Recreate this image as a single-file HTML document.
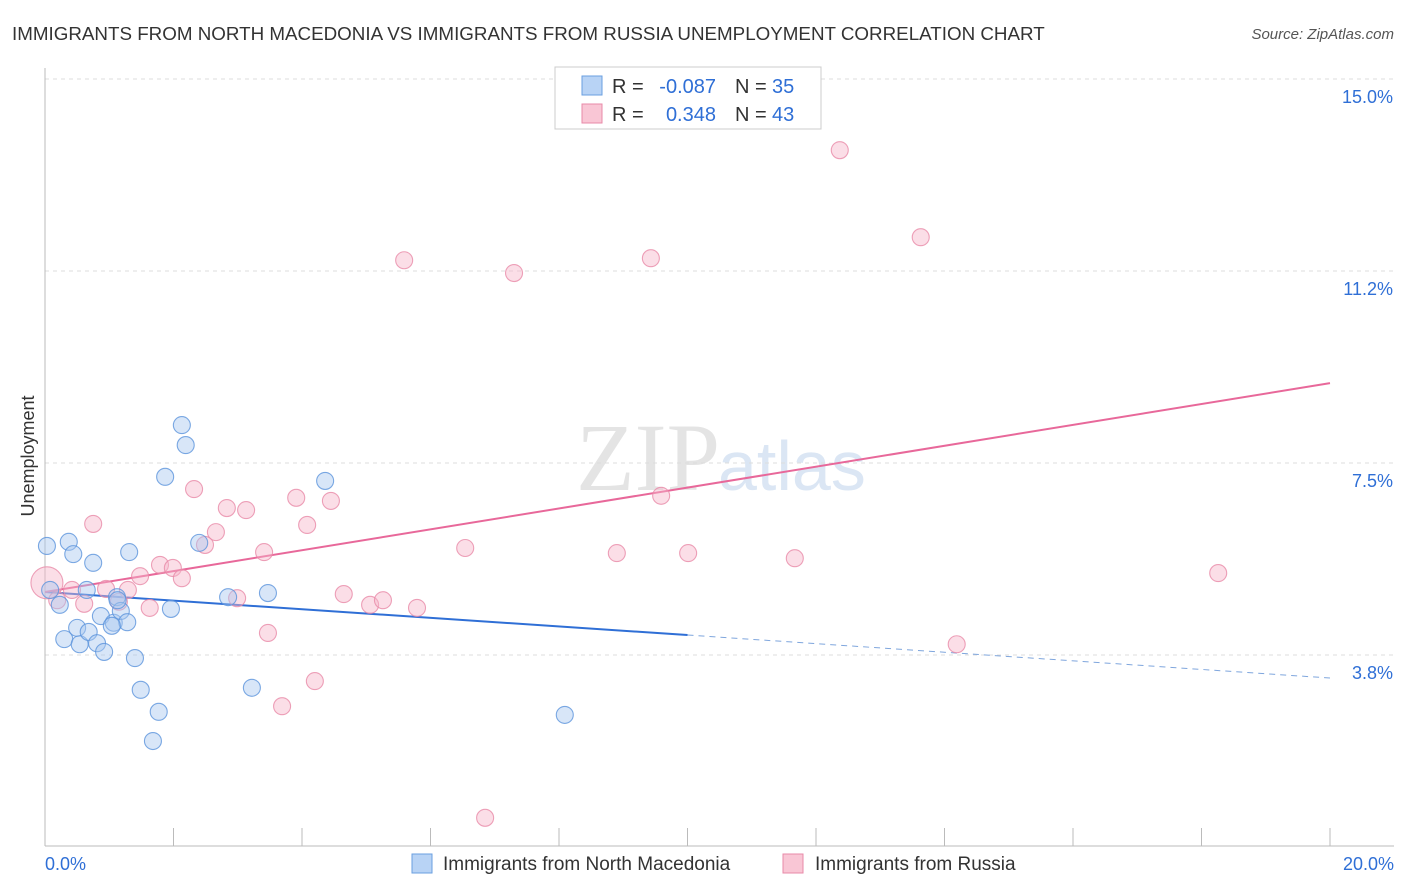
<!DOCTYPE html>
<html><head><meta charset="utf-8">
<style>
body{margin:0;background:#fff;font-family:"Liberation Sans",sans-serif;}
#wrap{position:relative;width:1406px;height:892px;overflow:hidden;}
</style></head>
<body>
<div id="wrap">
<svg id="svg" width="1406" height="892" xmlns="http://www.w3.org/2000/svg">
<text x="12" y="40" font-size="18.8" fill="#333">IMMIGRANTS FROM NORTH MACEDONIA VS IMMIGRANTS FROM RUSSIA UNEMPLOYMENT CORRELATION CHART</text>
<text x="1394" y="39" font-size="15" fill="#555" text-anchor="end" font-style="italic">Source: ZipAtlas.com</text>
<text x="720" y="490" font-size="96" fill="#e4e4e4" text-anchor="end" font-family="Liberation Serif,serif">ZIP</text>
<text x="718" y="490" font-size="70" fill="#dbe6f4">atlas</text>
<text transform="translate(34,456) rotate(-90)" font-size="18" fill="#333" text-anchor="middle">Unemployment</text>
<g id="grid"></g><g id="axes"></g><g id="lines"></g><g id="pts"></g>
<g>
<rect x="555" y="67" width="266" height="62" fill="#fff" stroke="#ccc"/>
<rect x="582" y="76" width="20" height="19" fill="#b8d3f5" stroke="#6a9fe0"/>
<rect x="582" y="104" width="20" height="19" fill="#f9c6d5" stroke="#e88aa8"/>
<text x="612" y="93" font-size="20" fill="#333">R =</text>
<text x="716" y="93" font-size="20" fill="#2f6fd6" text-anchor="end">-0.087</text>
<text x="735" y="93" font-size="20" fill="#333">N =</text>
<text x="772" y="93" font-size="20" fill="#2f6fd6">35</text>
<text x="612" y="121" font-size="20" fill="#333">R =</text>
<text x="716" y="121" font-size="20" fill="#2f6fd6" text-anchor="end">0.348</text>
<text x="735" y="121" font-size="20" fill="#333">N =</text>
<text x="772" y="121" font-size="20" fill="#2f6fd6">43</text>
</g>
<g>
<rect x="412" y="854" width="20" height="19" fill="#b8d3f5" stroke="#6a9fe0"/>
<text x="443" y="870" font-size="19" fill="#333">Immigrants from North Macedonia</text>
<rect x="783" y="854" width="20" height="19" fill="#f9c6d5" stroke="#e88aa8"/>
<text x="815" y="870" font-size="19" fill="#333">Immigrants from Russia</text>
</g>
</svg>
</div>
<script>
const yTicks=[3.75,7.5,11.25,15];
const yTickLabels=["3.8%","7.5%","11.2%","15.0%"];
const xTickLabels=["0.0%","20.0%"];
const blueX=[.03,.37,.44,.75,1.31,.08,.65,.23,1.12,.30,.50,.54,.68,.81,.92,.87,1.07,1.18,1.28,1.04,1.40,1.49,1.77,1.68,2.13,2.19,1.87,2.40,1.96,2.85,3.47,3.22,4.36,8.09,1.13];
const blueY=[5.88,5.96,5.72,5.55,5.76,5.02,5.02,4.73,4.88,4.06,4.28,3.96,4.20,3.98,3.81,4.51,4.38,4.61,4.39,4.32,3.69,3.07,2.64,2.07,8.24,7.85,7.23,5.94,4.65,4.88,4.96,3.11,7.15,2.58,4.82];
const pinkX=[.03,.19,.42,.61,.75,.95,1.29,1.48,1.63,1.79,1.99,2.13,2.32,2.49,2.66,2.83,2.99,3.13,3.41,3.47,3.69,3.91,4.08,4.20,4.45,4.65,5.06,5.26,5.59,5.79,6.54,6.85,7.30,8.90,9.43,9.59,10.01,11.67,12.37,13.63,14.19,18.26,1.15];
const pinkY=[5.16,4.82,5.02,4.75,6.31,5.04,5.02,5.29,4.67,5.51,5.45,5.25,6.99,5.90,6.15,6.62,4.86,6.58,5.76,4.18,2.75,6.82,6.29,3.24,6.76,4.94,4.73,4.82,11.46,4.67,5.84,0.57,11.21,5.74,11.50,6.86,5.74,5.64,13.61,11.91,3.96,5.35,4.79];
const blueFit=[4.98,3.30];
const pinkFit=[4.98,9.06];
const NS="http://www.w3.org/2000/svg";
const X=v=>45+v*64.25, Y=v=>847-v*51.2;
function mk(t,a,p){const e=document.createElementNS(NS,t);for(const k in a)e.setAttribute(k,a[k]);p.appendChild(e);return e;}
const grid=document.getElementById('grid'),axes=document.getElementById('axes'),lines=document.getElementById('lines'),pts=document.getElementById('pts');
yTicks.forEach((t,i)=>{
 const l=mk('line',{x1:45,x2:1394,y1:Y(t),y2:Y(t),stroke:'#ddd','stroke-dasharray':'4,4'},grid);
 
 
 const tx=mk('text',{x:1393,y:Y(t)+24,'font-size':18,fill:'#2f6fd6','text-anchor':'end'},axes);
 tx.textContent=yTickLabels[i];
 
 
});
const gl=mk('line',{x1:45,x2:1394,y1:79,y2:79,stroke:'#ddd','stroke-dasharray':'4,4'},grid);


const ya=mk('line',{x1:45,x2:45,y1:68,y2:846,stroke:'#bbb'},axes);


const xa=mk('line',{x1:45,x2:1394,y1:846,y2:846,stroke:'#bbb'},axes);


for(let i=0;i<=10;i++){const t=mk('line',{x1:X(i*2),x2:X(i*2),y1:828,y2:846,stroke:'#bbb'},axes);
 
 }
[[0,45,'start'],[20,1394,'end']].forEach((d,i)=>{const t=mk('text',{x:d[1],y:870,'font-size':18,fill:'#2f6fd6','text-anchor':d[2]},axes);t.textContent=xTickLabels[i];
 
 });
const by=x=>blueFit[0]+(blueFit[1]-blueFit[0])*x/20, py=x=>pinkFit[0]+(pinkFit[1]-pinkFit[0])*x/20;
const b1=mk('line',{x1:X(0),y1:Y(by(0)),x2:X(10),y2:Y(by(10)),stroke:'#2f6fd6','stroke-width':2},lines);


const b2=mk('line',{x1:X(10),y1:Y(by(10)),x2:X(20),y2:Y(by(20)),stroke:'#7fa6dd','stroke-width':1,'stroke-dasharray':'6,5'},lines);


const p1=mk('line',{x1:X(0),y1:Y(py(0)),x2:X(20),y2:Y(py(20)),stroke:'#e8689a','stroke-width':2},lines);


function draw(xs,ys,fill,stroke,name){xs.forEach((x,i)=>{const c=mk('circle',{cx:X(x),cy:Y(ys[i]),r:(i===0&&name==='pink-point')?16:8.5,fill:fill,'fill-opacity':0.45,stroke:stroke,'stroke-opacity':0.8,'stroke-width':1.1},pts);
 
 });}
draw(pinkX,pinkY,'#f7b6ca','#e88aa8','pink-point');
draw(blueX,blueY,'#a9c8f0','#5b93dc','blue-point');
</script>
</body></html>
